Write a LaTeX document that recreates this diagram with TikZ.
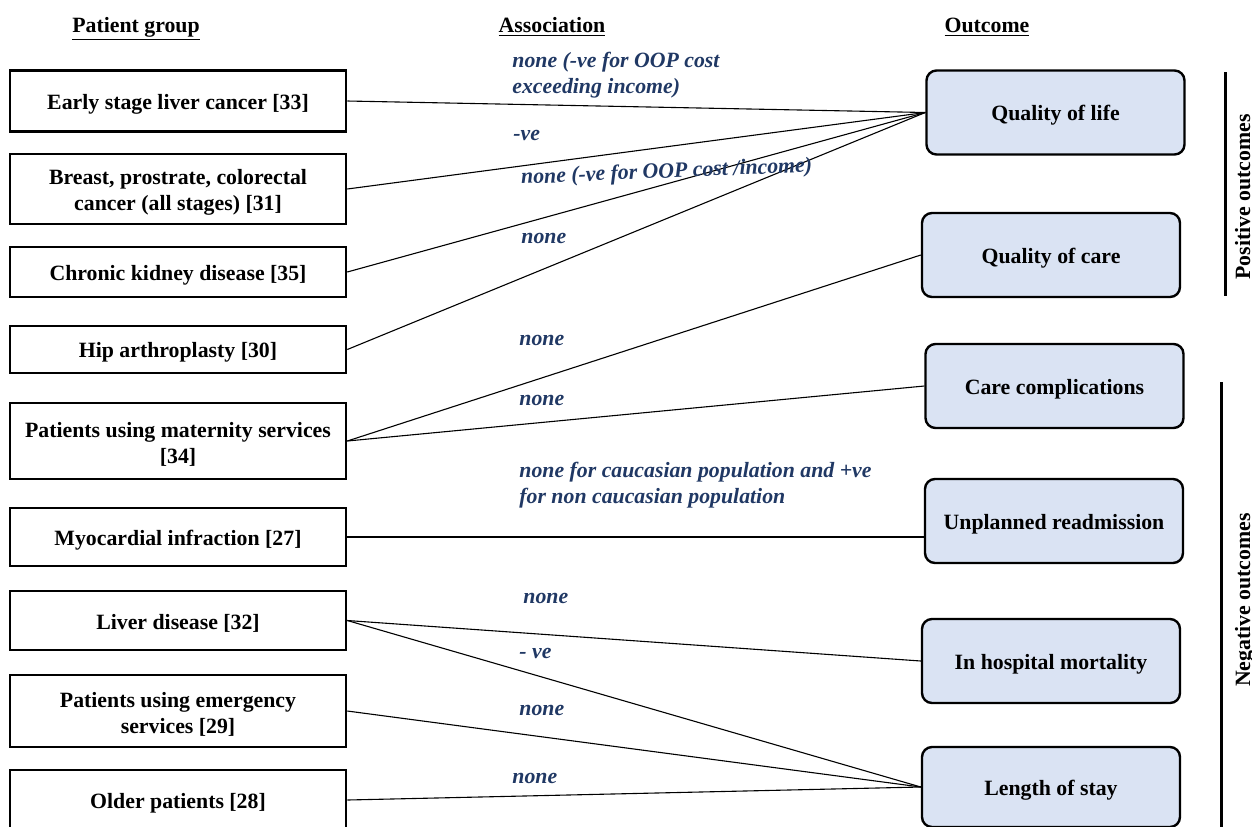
\documentclass[tikz,border=0pt]{standalone}
\usepackage{fontspec}
\setmainfont{Liberation Serif}
\definecolor{lblue}{HTML}{203864}
\definecolor{boxfill}{HTML}{DAE3F3}
\newcommand\mytstrut{\rule{0pt}{10.5pt}}
\tikzset{
  every node/.style={font=\fontsize{10.9}{13}\selectfont\bfseries},
  lbox/.style={draw, line width=1.3pt, minimum width=168pt, align=center, inner sep=0pt, execute at begin node=\mytstrut},
  obox/.style={draw, line width=1.2pt, fill=boxfill, rounded corners=5pt, minimum width=129pt, minimum height=42pt, align=center, inner sep=0pt, execute at begin node=\mytstrut},
  hdr/.style={anchor=base},
  assoc/.style={anchor=base west, text=lblue, font=\fontsize{10.9}{13}\selectfont\bfseries\itshape, align=left, inner sep=0pt},
  conn/.style={line width=0.55pt},
  bar/.style={line width=1.5pt},
  side/.style={anchor=base, rotate=90, inner sep=0pt}
}
\begin{document}
\begin{tikzpicture}[x=0.5pt,y=-0.5pt]
\useasboundingbox (0,0) rectangle (1252,826);
\clip (0,0) rectangle (1252,826);
% headers
\node[hdr] (h1) at (136,32) {\underline{Patient group}};
\node[hdr] (h2) at (552,32) {\underline{Association}};
\node[hdr] (h3) at (987,32) {\underline{Outcome}};
% patient groups
\node[lbox, minimum height=30.5pt] (p1) at (178,101) {Early stage liver cancer [33]};
\node[lbox, minimum height=35pt] (p2) at (178,189) {\mytstrut Breast, prostrate, colorectal\\cancer (all stages) [31]};
\node[lbox, minimum height=25pt] (p3) at (178,272) {Chronic kidney disease [35]};
\node[lbox, minimum height=23.5pt] (p4) at (178,349.5) {Hip arthroplasty [30]};
\node[lbox, minimum height=38pt] (p5) at (178,441) {\mytstrut Patients using maternity services\\{}[34]};
\node[lbox, minimum height=29pt] (p6) at (178,537) {Myocardial infraction [27]};
\node[lbox, minimum height=29.5pt] (p7) at (178,620.5) {Liver disease [32]};
\node[lbox, minimum height=36pt] (p8) at (178,711) {\mytstrut Patients using emergency\\services [29]};
\node[lbox, minimum height=30pt] (p9) at (178,800) {Older patients [28]};
% outcomes
\node[obox] (o1) at (1055.5,112.5) {Quality of life};
\node[obox] (o2) at (1051,255) {Quality of care};
\node[obox] (o3) at (1054.5,386) {Care complications};
\node[obox] (o4) at (1054,521) {Unplanned readmission};
\node[obox] (o5) at (1051,661) {In hospital mortality};
\node[obox, minimum height=40pt] (o6) at (1051,787) {Length of stay};
% connectors
\draw[conn] (p1.east) -- (o1.west);
\draw[conn] (p2.east) -- (o1.west);
\draw[conn] (p3.east) -- (o1.west);
\draw[conn] (p4.east) -- (o1.west);
\draw[conn] (p5.east) -- (o2.west);
\draw[conn] (p5.east) -- (o3.west);
\draw[conn] (p6.east) -- (p6.east -| o4.west);
\draw[conn] (p7.east) -- (o5.west);
\draw[conn] (p7.east) -- (o6.west);
\draw[conn] (p8.east) -- (o6.west);
\draw[conn] (p9.east) -- (o6.west);
% association labels (base = baseline of last line)
\node[assoc] (a1) at (512,93) {none (-ve for OOP cost\\exceeding income)};
\node[assoc] (a2) at (513,140) {-ve};
\node[assoc, rotate=2.4] (a3) at (521,184) {none (-ve for OOP cost /income)};
\node[assoc] (a4) at (521,243) {none};
\node[assoc] (a5) at (519,345) {none};
\node[assoc] (a6) at (519,405) {none};
\node[assoc] (a7) at (519,503) {none for caucasian population and +ve\\for non caucasian population};
\node[assoc] (a8) at (523,603) {none};
\node[assoc] (a9) at (519,658) {- ve};
\node[assoc] (a10) at (519,715) {none};
\node[assoc] (a11) at (512,783) {none};
% side bars
\coordinate (b1t) at (1225,72);
\coordinate (b1b) at (1225,296);
\draw[bar] (b1t) -- (b1b);
\coordinate (b2t) at (1221,382);
\coordinate (b2b) at (1221,840);
\draw[bar] (b2t) -- (b2b);
\node[side] (s1) at (1250,197) {Positive outcomes};
\node[side] (s2) at (1250,600) {Negative outcomes};
\end{tikzpicture}
\end{document}
